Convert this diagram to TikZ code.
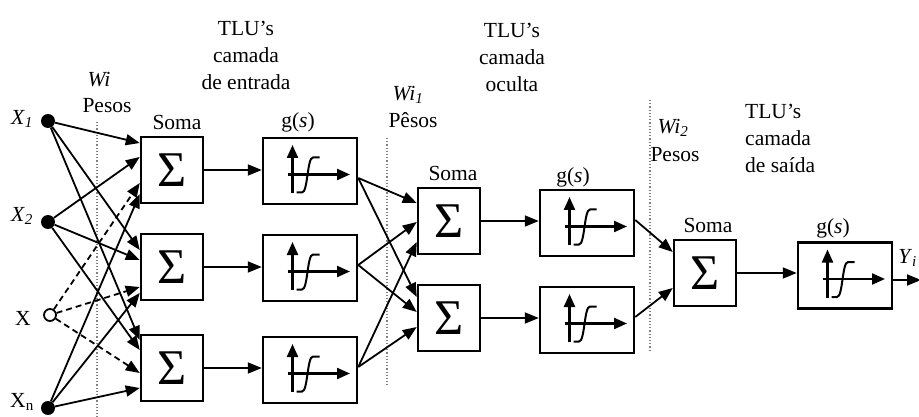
\documentclass[tikz,border=0pt]{standalone}
\usepackage{fontspec}
\setmainfont{Liberation Serif}
\usetikzlibrary{arrows.meta}
\begin{document}
\begin{tikzpicture}[x=1pt,y=-1pt,
  arr/.style={line width=1.8pt,-{Triangle[length=14pt,width=11pt]}},
  darr/.style={arr,dash pattern=on 6pt off 4pt},
  sbox/.style={draw,line width=2.5pt,minimum width=62pt,minimum height=66pt,inner sep=0pt,font=\fontsize{50}{50}\selectfont},
  gbox/.style={draw,line width=2.5pt,minimum width=94pt,minimum height=66pt,inner sep=0pt},
  lbl/.style={font=\fontsize{21.5}{27}\selectfont,inner sep=0pt},
  sepline/.style={gray,dotted,line width=1.2pt},
  dotn/.style={circle,fill,inner sep=0pt,minimum size=14pt},
  odotn/.style={circle,draw,line width=1.8pt,fill=white,inner sep=0pt,minimum size=12pt},
  gsym/.pic={
    \draw[line width=2.2pt,-{Triangle[length=13pt,width=11pt]}] (-17.5,22) -- (-17.5,-26);
    \draw[line width=2.2pt,-{Triangle[length=13pt,width=11pt]}] (-22.5,3.5) -- (40,3.5);
    \draw[line width=2pt] (-13.5,21.5) -- (-8,21.5) .. controls (-2,21.5) and (-3,-13.5) .. (3,-13.5) -- (9.5,-13.5);
  }
]
\useasboundingbox (0,0) rectangle (919,417);

% separators
\draw[sepline] (97,122) -- (97,417);
\draw[sepline] (387,138) -- (387,385);
\draw[sepline] (650,100) -- (650,352);

% inputs
\node[dotn] (x1) at (48,121) {};
\node[dotn] (x2) at (48,222) {};
\node[odotn] (x0) at (50,315) {};
\node[dotn] (xn) at (48,408) {};
\node[lbl] (lx1) at (22,119) {\textit{X}\textsubscript{\textit{1}}};
\node[lbl] (lx2) at (22,216) {\textit{X}\textsubscript{\textit{2}}};
\node[lbl] (lx0) at (23,318) {X};
\node[lbl] (lxn) at (22,402) {X\textsubscript{n}};

% layer 1
\node[sbox] (s1) at (172,170) {Σ};
\node[sbox] (s2) at (172,267) {Σ};
\node[sbox] (s3) at (172,368) {Σ};
\node[gbox] (g1) at (310,171) {};
\node[gbox] (g2) at (310,268) {};
\node[gbox] (g3) at (310,370) {};
\pic at (g1.center) {gsym};
\pic at (g2.center) {gsym};
\pic at (g3.center) {gsym};

% layer 2
\node[sbox] (t1) at (449,221) {Σ};
\node[sbox] (t2) at (449,318) {Σ};
\node[gbox] (h1) at (587,223) {};
\node[gbox] (h2) at (587,320) {};
\pic at (h1.center) {gsym};
\pic at (h2.center) {gsym};

% layer 3
\node[sbox] (u1) at (705,273) {Σ};
\node[gbox] (k1) at (845,275.5) {};
\pic at (k1.center) {gsym};
\coordinate (yout) at (921,280);

% labels
\node[lbl,align=center] (tl1) at (246,55) {TLU’s\\camada\\de entrada};
\node[lbl,align=center] (tl2) at (512,57) {TLU’s\\camada\\oculta};
\node[lbl,align=left,anchor=west] (tl3) at (745,138) {TLU’s\\camada\\de saída};
\node[lbl] (w0) at (99,80) {\textit{Wi}};
\node[lbl] (p0) at (107,106) {Pesos};
\node[lbl] (w1) at (408,95) {\textit{Wi}\textsubscript{\textit{1}}};
\node[lbl] (p1) at (413,120) {Pêsos};
\node[lbl] (w2) at (673,128) {\textit{Wi}\textsubscript{\textit{2}}};
\node[lbl] (p2) at (675,155) {Pesos};
\node[lbl] (so1) at (177,122) {Soma};
\node[lbl] (so2) at (453,173) {Soma};
\node[lbl] (so3) at (708,225) {Soma};
\node[lbl] (gs1) at (298,122) {g(\textit{s})};
\node[lbl] (gs2) at (573,177) {g(\textit{s})};
\node[lbl] (gs3) at (833,228) {g(\textit{s})};
\node[lbl,anchor=east] (ly) at (917,258) {\textit{Y}\textsubscript{\textit{i}}};

% input connections
\draw[arr] (x1) -- ([yshift=27pt]s1.west);
\draw[arr] (x2) -- ([yshift=13pt]s1.west);
\draw[darr] (x0) -- ([yshift=-13pt]s1.west);
\draw[arr] (xn) -- ([yshift=-24pt]s1.west);
\draw[arr] (x1) -- ([yshift=17pt]s2.west);
\draw[arr] (x2) -- ([yshift=7pt]s2.west);
\draw[darr] (x0) -- ([yshift=-20pt]s2.west);
\draw[arr] (xn) -- ([yshift=-26pt]s2.west);
\draw[arr] (x1) -- ([yshift=28pt]s3.west);
\draw[arr] (x2) -- ([yshift=18pt]s3.west);
\draw[darr] (x0) -- ([yshift=-5pt]s3.west);
\draw[arr] (xn) -- ([yshift=-20pt]s3.west);

% sum -> g
\draw[arr] (s1.east) -- (s1.east -| g1.west);
\draw[arr] (s2.east) -- (s2.east -| g2.west);
\draw[arr] (s3.east) -- (s3.east -| g3.west);
\draw[arr] (t1.east) -- (t1.east -| h1.west);
\draw[arr] (t2.east) -- (t2.east -| h2.west);
\draw[arr] (u1.east) -- (u1.east -| k1.west);

% layer1 -> layer2
\draw[arr] ([yshift=-7pt]g1.east) -- ([yshift=18pt]t1.west);
\draw[arr] ([yshift=-7pt]g1.east) -- ([yshift=21pt]t2.west);
\draw[arr] ([yshift=3pt]g2.east) -- ([yshift=-1pt]t1.west);
\draw[arr] ([yshift=3pt]g2.east) -- ([yshift=6pt]t2.west);
\draw[arr] ([yshift=3pt]g3.east) -- ([yshift=-21pt]t1.west);
\draw[arr] ([yshift=3pt]g3.east) -- ([yshift=-9pt]t2.west);

% layer2 -> layer3
\draw[arr] ([yshift=3pt]h1.east) -- ([yshift=21pt]u1.west);
\draw[arr] ([yshift=3pt]h2.east) -- ([yshift=-15pt]u1.west);

% output
\draw[arr] ([yshift=-4.5pt]k1.east) -- (yout);
\end{tikzpicture}
\end{document}
